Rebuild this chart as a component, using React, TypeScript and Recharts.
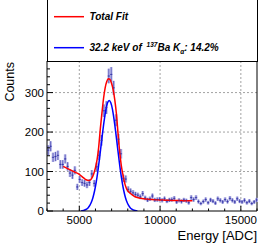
import React from 'react';
import { ComposedChart, Line, Scatter, XAxis, YAxis, ErrorBar, ReferenceLine, Label } from 'recharts';

// Histogram bins (ADC centre) and counts
const binCenters = [
  3075, 3225, 3375, 3525, 3675, 3825, 3975, 4125, 4275, 4425,
  4575, 4725, 4875, 5025, 5175, 5325, 5475, 5625, 5775, 5925,
  6075, 6225, 6375, 6525, 6675, 6825, 6975, 7125, 7275, 7425,
  7575, 7725, 7875, 8025, 8175, 8325, 8475, 8625, 8775, 8925,
  9075, 9225, 9375, 9525, 9675, 9825, 9975, 10125, 10275, 10425,
  10575, 10725, 10875, 11025, 11175, 11325, 11475, 11625, 11775, 11925,
  12075, 12225, 12375, 12525, 12675, 12825, 12975, 13125, 13275, 13425,
  13575, 13725, 13875, 14025, 14175, 14325, 14475, 14625, 14775, 14925,
  15075, 15225, 15375, 15525, 15675, 15825, 15975,
];
const binCounts = [
  154, 164, 136, 138, 141, 118, 118, 132, 113, 96,
  91, 103, 61, 80, 72, 70, 66, 72, 94, 70,
  112, 141, 179, 254, 262, 342, 346, 312, 230, 182,
  145, 83, 81, 55, 50, 46, 42, 40, 36, 44,
  33, 28, 31, 38, 28, 29, 30, 27, 31, 25,
  28, 29, 32, 23, 27, 24, 28, 26, 21, 34,
  29, 34, 24, 19, 24, 29, 21, 28, 25, 20,
  31, 27, 23, 29, 24, 32, 27, 23, 31, 25,
  23, 27, 21, 25, 19, 23, 28,
];
const binHalfWidth = 75;

// Total fit curve (red)
const totalFitX = [
  4000, 4250, 4500, 4750, 5000, 5200, 5350, 5500, 5600, 5700,
  5800, 5900, 6000, 6100, 6200, 6300, 6400, 6500, 6600, 6700,
  6800, 6900, 7000, 7100, 7200, 7300, 7400, 7500, 7600, 7700,
  7800, 7900, 8000, 8150, 8300, 8450, 8700, 9000, 9500, 10000,
  10500, 11000, 11500, 12000,
];
const totalFitY = [
  113, 108, 103, 98, 93, 86, 81, 78, 77, 79,
  85, 95, 110, 130, 162, 208, 248, 285, 312, 328,
  335, 333, 323, 306, 280, 245, 195, 150, 115, 92,
  72, 59, 51, 45, 40, 36, 33, 31, 29, 28,
  27, 26.5, 26, 26,
];

// 32.2 keV Ba K-alpha component (blue)
const baKaX = [
  5100, 5250, 5450, 5550, 5650, 5750, 5850, 5950, 6050, 6150,
  6250, 6350, 6450, 6550, 6650, 6750, 6850, 6950, 7050, 7150,
  7250, 7350, 7450, 7550, 7650, 7750, 7850, 7950, 8050, 8150,
  8250, 8450, 8600,
];
const baKaY = [
  0.2, 1.3, 4.7, 8.3, 14, 22.6, 35, 52, 74, 101,
  133, 167, 201, 232, 258, 274, 280, 274, 258, 232,
  201, 167, 133, 101, 74, 52, 35, 22.6, 14, 8.3,
  4.7, 1.3, 0.3,
];

const xTickValues = [3000, 4000, 5000, 6000, 7000, 8000, 9000, 10000, 11000, 12000, 13000, 14000, 15000, 16000];
const xMajorTicks = [5000, 10000, 15000];
const yTickValues = [0, 20, 40, 60, 80, 100, 120, 140, 160, 180, 200, 220, 240, 260, 280, 300, 320, 340, 360];
const yMajorTicks = [0, 100, 200, 300];
const xDomain = [3000, 16000];
const yDomain = [0, 380];

const FONT = '"Liberation Sans", Arial, Helvetica, sans-serif';

const histData = binCenters.map((x, i) => ({ x, y: binCounts[i], ey: Math.sqrt(binCounts[i]), ex: binHalfWidth }));
const totalFitData = totalFitX.map((x, i) => ({ x, y: totalFitY[i] }));
const baKaData = baKaX.map((x, i) => ({ x, y: baKaY[i] }));

const X_TICK_MARGIN = 4;
const Y_TICK_MARGIN = 3;

const XTick = (props: any) => {
  const { x, y, payload } = props;
  const v = payload.value;
  const major = xMajorTicks.includes(v);
  const base = y - X_TICK_MARGIN;
  return (
    <g>
      <line x1={x} x2={x} y1={base} y2={base - (major ? 5 : 2.5)} stroke="#000" strokeWidth={1} />
      {major && (
        <text x={x} y={y} dy="0.74em" textAnchor="middle" fontFamily={FONT} fontSize={11.5} fill="#000">
          {v}
        </text>
      )}
    </g>
  );
};

const YTick = (props: any) => {
  const { x, y, payload } = props;
  const v = payload.value;
  const major = yMajorTicks.includes(v);
  const base = x + Y_TICK_MARGIN;
  return (
    <g>
      <line x1={base} x2={base + (major ? 6 : 3)} y1={y} y2={y} stroke="#000" strokeWidth={1} />
      {major && (
        <text x={x} y={y} dy="0.36em" textAnchor="end" fontFamily={FONT} fontSize={11.5} fill="#000">
          {v}
        </text>
      )}
    </g>
  );
};

const YTitle = (props: any) => {
  const vb = props.viewBox || { x: 0, y: 61 };
  const tx = vb.x + 14;
  const ty = vb.y + 1;
  return (
    <text x={tx} y={ty} transform={`rotate(-90, ${tx}, ${ty})`} textAnchor="end" fontFamily={FONT} fontSize={12.5} fill="#000">
      Counts
    </text>
  );
};

const XTitle = (props: any) => {
  const vb = props.viewBox || { x: 47, y: 211, width: 210 };
  return (
    <text x={vb.x + vb.width} y={vb.y + 28.5} textAnchor="end" fontFamily={FONT} fontSize={13} fill="#000">
      Energy [ADC]
    </text>
  );
};

const PointShape = (p: any) => <circle cx={p.cx} cy={p.cy} r={0.6} fill="#3434a4" />;

export default function App() {
  return (
    <div style={{ position: 'absolute', left: 0, top: 0, width: 275, height: 244, background: '#fff' }}>
      <ComposedChart width={275} height={244} margin={{ top: 61, right: 18, left: 0, bottom: 0 }}>
        <XAxis
          dataKey="x"
          type="number"
          domain={xDomain}
          ticks={xTickValues}
          interval={0}
          allowDataOverflow
          height={33}
          tickSize={0}
          tickMargin={X_TICK_MARGIN}
          tickLine={false}
          axisLine={{ stroke: '#000', strokeWidth: 1 }}
          tick={<XTick />}
        >
          <Label content={<XTitle />} />
        </XAxis>
        <YAxis
          type="number"
          domain={yDomain}
          ticks={yTickValues}
          interval={0}
          allowDataOverflow
          width={47}
          tickSize={0}
          tickMargin={Y_TICK_MARGIN}
          tickLine={false}
          axisLine={{ stroke: '#000', strokeWidth: 1 }}
          tick={<YTick />}
        >
          <Label content={<YTitle />} />
        </YAxis>
        {xMajorTicks.map((v) => (
          <ReferenceLine key={'gx' + v} x={v} stroke="#8a8a8a" strokeWidth={0.8} strokeDasharray="2 2" />
        ))}
        {yMajorTicks.filter((v) => v > 0).map((v) => (
          <ReferenceLine key={'gy' + v} y={v} stroke="#8a8a8a" strokeWidth={0.8} strokeDasharray="2 2" />
        ))}
        <ReferenceLine y={yDomain[1]} stroke="#000" strokeWidth={1} />
        <ReferenceLine x={xDomain[1]} stroke="#000" strokeWidth={1} />
        <Scatter data={histData} dataKey="y" shape={PointShape} isAnimationActive={false}>
          <ErrorBar dataKey="ey" direction="y" width={0} stroke="#c0c0ec" strokeWidth={2.8} />
          <ErrorBar dataKey="ey" direction="y" width={0} stroke="#4444b0" strokeWidth={0.75} />
          <ErrorBar dataKey="ex" direction="x" width={0} stroke="#4444b0" strokeWidth={0.75} />
        </Scatter>
        <Line data={baKaData} dataKey="y" type="monotone" dot={false} stroke="#0000ff" strokeWidth={1.5} isAnimationActive={false} />
        <Line data={totalFitData} dataKey="y" type="monotone" dot={false} stroke="#ff0000" strokeWidth={1.5} isAnimationActive={false} />
      </ComposedChart>
      <div
        style={{
          position: 'absolute',
          left: 46.5,
          top: -2,
          width: 211,
          height: 64,
          boxSizing: 'border-box',
          border: '1px solid #000',
          background: '#fff',
          fontFamily: FONT,
          fontWeight: 'bold',
          fontStyle: 'italic',
          fontSize: 10,
          color: '#000',
        }}
      >
        <svg width={40} height={64} style={{ position: 'absolute', left: 0, top: 0 }}>
          <line x1={6} x2={36} y1={17.7} y2={17.7} stroke="#ff0000" strokeWidth={1.5} />
          <line x1={6} x2={36} y1={48.7} y2={48.7} stroke="#0000ff" strokeWidth={1.5} />
        </svg>
        <div style={{ position: 'absolute', left: 42, top: 11, whiteSpace: 'nowrap', lineHeight: '13px' }}>Total Fit</div>
        <div style={{ position: 'absolute', left: 42, top: 42, whiteSpace: 'nowrap', lineHeight: '13px' }}>
          32.2 keV of{' '}
          <span style={{ fontSize: 6.5, position: 'relative', top: -4, marginLeft: 2 }}>137</span>
          Ba K
          <span style={{ fontSize: 6.5, position: 'relative', top: 3 }}>α</span>: 14.2%
        </div>
      </div>
    </div>
  );
}
